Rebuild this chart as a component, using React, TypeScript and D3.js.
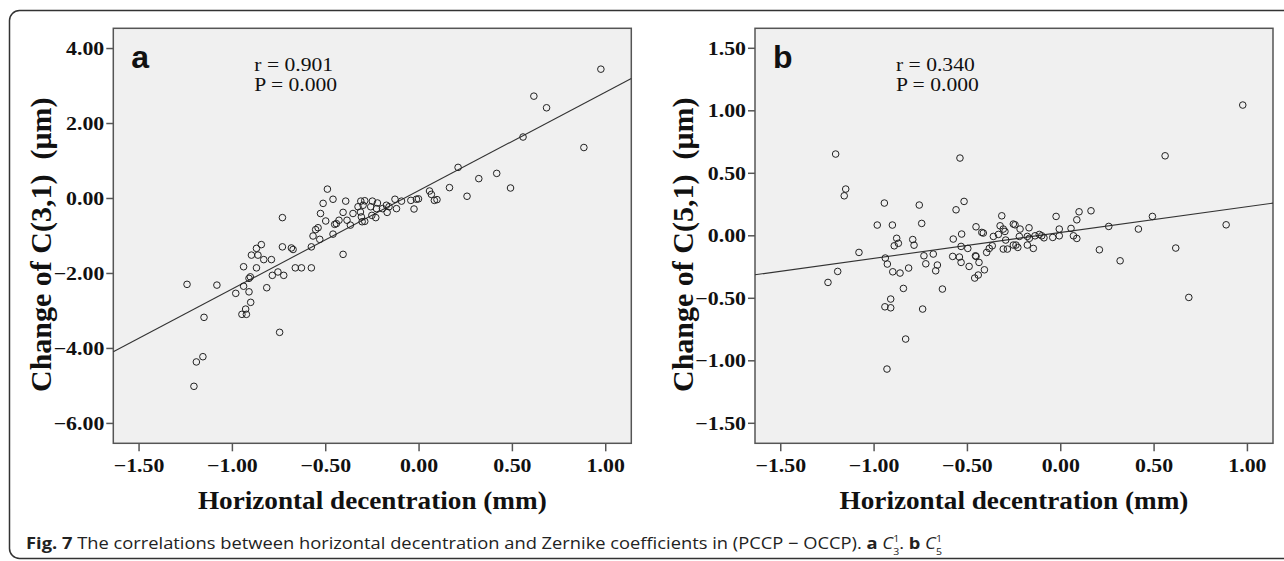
import React from "react";
import * as d3 from "d3";

// ---------- data ----------
const X_TICKS = [-1.5, -1, -0.5, 0, 0.5, 1];
const Y_TICKS_A = [-6, -4, -2, 0, 2, 4];
const Y_TICKS_B = [-1.5, -1, -0.5, 0, 0.5, 1, 1.5];
const X_DOMAIN: [number, number] = [-1.638, 1.137];
const Y_DOMAIN_A: [number, number] = [-6.53, 4.54];
const Y_DOMAIN_B: [number, number] = [-1.66, 1.66];

const FIT_A = { slope: 2.627, intercept: 0.215 };
const FIT_B = { slope: 0.2067, intercept: 0.0266 };

const STATS_A = ["r = 0.901", "P = 0.000"];
const STATS_B = ["r = 0.340", "P = 0.000"];

const DATA_A: [number, number][] = [
  [0.974, 3.45], [0.615, 2.73], [0.683, 2.42], [0.557, 1.64], [0.883, 1.36],
  [0.209, 0.83], [0.32, 0.53], [0.416, 0.67], [0.49, 0.28], [0.163, 0.29],
  [0.257, 0.06], [0.056, 0.2], [0.066, 0.11], [0.082, -0.05], [0.096, -0.03],
  [-0.014, -0.02], [-0.003, -0.01], [-0.027, -0.28], [-0.044, -0.05], [-0.094, -0.07],
  [-0.129, -0.02], [-0.121, -0.27], [-0.175, -0.18], [-0.161, -0.22], [-0.171, -0.37],
  [-0.196, -0.27], [-0.223, -0.12], [-0.228, -0.27], [-0.25, -0.07], [-0.259, -0.22],
  [-0.232, -0.51], [-0.253, -0.45], [-0.291, -0.06], [-0.3, -0.18], [-0.312, -0.07],
  [-0.327, -0.22], [-0.314, -0.36], [-0.309, -0.49], [-0.291, -0.61], [-0.305, -0.62],
  [-0.354, -0.4], [-0.368, -0.71], [-0.386, -0.58], [-0.393, -0.07], [-0.407, -0.37],
  [-0.429, -0.58], [-0.443, -0.67], [-0.461, -0.02], [-0.461, -0.95], [-0.452, -0.69],
  [-0.514, -0.13], [-0.491, 0.25], [-0.528, -0.4], [-0.5, -0.6], [-0.532, -1.09],
  [-0.541, -0.78], [-0.554, -0.83], [-0.568, -1.0], [-0.577, -1.29], [-0.732, -0.51],
  [-0.845, -1.23], [-0.732, -1.29], [-0.684, -1.32], [-0.675, -1.36], [-0.871, -1.33],
  [-0.898, -1.51], [-0.863, -1.51], [-0.832, -1.63], [-0.791, -1.63], [-0.407, -1.49],
  [-0.94, -1.82], [-0.871, -1.85], [-0.904, -2.09], [-0.911, -2.13], [-0.786, -2.05],
  [-0.756, -1.96], [-0.725, -2.05], [-0.663, -1.85], [-0.63, -1.85], [-0.577, -1.85],
  [-1.243, -2.29], [-1.083, -2.31], [-0.94, -2.34], [-0.982, -2.53], [-0.911, -2.49],
  [-0.816, -2.38], [-0.902, -2.77], [-0.929, -2.95], [-0.949, -3.09], [-0.925, -3.09],
  [-1.152, -3.17], [-0.747, -3.57], [-1.158, -4.22], [-1.193, -4.36], [-1.206, -5.01],
];

const DATA_B: [number, number][] = [
  [-1.206, 0.654], [-1.152, 0.374], [-1.16, 0.32], [-0.945, 0.262], [-0.758, 0.246],
  [-0.983, 0.086], [-0.902, 0.086], [-0.745, 0.099], [-0.54, 0.622], [-0.561, 0.208],
  [-0.518, 0.275], [-0.576, -0.026], [-0.531, 0.014], [-0.879, -0.02], [-0.87, -0.06],
  [-0.892, -0.08], [-0.793, -0.03], [-0.786, -0.075], [0.975, 1.046], [0.559, 0.64],
  [0.162, 0.2], [0.098, 0.192], [0.086, 0.128], [-0.025, 0.155], [0.491, 0.155],
  [0.257, 0.075], [0.416, 0.054], [0.886, 0.088], [-0.316, 0.16], [-0.254, 0.094],
  [-0.245, 0.088], [-0.325, 0.08], [-0.308, 0.054], [-0.299, 0.035], [-0.454, 0.072],
  [-0.423, 0.027], [-0.415, 0.022], [-0.17, 0.064], [-0.218, 0.054], [-0.361, -0.005],
  [-0.334, 0.011], [-0.222, -0.005], [-0.179, -0.005], [-0.168, -0.02], [-0.138, 0.0],
  [-0.115, 0.011], [-0.102, 0.0], [-0.09, -0.016], [-0.043, -0.013], [-0.008, 0.0],
  [-0.008, 0.054], [0.055, 0.059], [0.068, 0.0], [0.086, -0.021], [-0.147, -0.101],
  [0.207, -0.112], [0.318, -0.2], [0.616, -0.098], [0.686, -0.493], [-1.081, -0.133],
  [-1.195, -0.285], [-1.247, -0.373], [-0.94, -0.178], [-0.929, -0.226], [-0.9, -0.288],
  [-0.861, -0.298], [-0.815, -0.258], [-0.843, -0.421], [-0.911, -0.506], [-0.942, -0.568],
  [-0.911, -0.576], [-0.74, -0.586], [-0.831, -0.826], [-0.931, -1.066], [-0.733, -0.16],
  [-0.723, -0.224], [-0.683, -0.146], [-0.661, -0.234], [-0.67, -0.28], [-0.634, -0.426],
  [-0.534, -0.085], [-0.579, -0.165], [-0.543, -0.17], [-0.534, -0.213], [-0.498, -0.101],
  [-0.491, -0.245], [-0.457, -0.16], [-0.454, -0.165], [-0.438, -0.213], [-0.461, -0.338],
  [-0.442, -0.314], [-0.409, -0.272], [-0.397, -0.133], [-0.383, -0.101], [-0.367, -0.08],
  [-0.295, -0.034], [-0.308, -0.106], [-0.286, -0.106], [-0.254, -0.074], [-0.24, -0.074],
  [-0.23, -0.093], [-0.179, -0.074],
];

// ---------- layout ----------
const W = 1284;
const H = 561;
const PLOT_TOP = 28.3;
const PLOT_H = 415;
const PLOT_W = 518;
const SERIF = "'Liberation Serif', 'Times New Roman', serif";
const SANS = "'Liberation Sans', Arial, sans-serif";
const fmt = d3.format(".2f");

type PanelProps = {
  left: number;
  letter: string;
  yDomain: [number, number];
  yTicks: number[];
  data: [number, number][];
  fit: { slope: number; intercept: number };
  stats: string[];
  yTitle: string;
};

function Panel({ left, letter, yDomain, yTicks, data, fit, stats, yTitle }: PanelProps) {
  const x = d3.scaleLinear().domain(X_DOMAIN).range([left, left + PLOT_W]);
  const y = d3.scaleLinear().domain(yDomain).range([PLOT_TOP + PLOT_H, PLOT_TOP]);
  const bottom = PLOT_TOP + PLOT_H;
  const line = d3
    .line<number>()
    .x((d) => x(d))
    .y((d) => y(fit.slope * d + fit.intercept));
  return (
    <g>
      <rect x={left} y={PLOT_TOP} width={PLOT_W} height={PLOT_H} fill="#f0f0f0" stroke="#555" strokeWidth={1.5} />
      <path d={line(X_DOMAIN) || ""} fill="none" stroke="#333" strokeWidth={1.1} />
      {data.map((d, i) => (
        <circle key={i} cx={x(d[0])} cy={y(d[1])} r={3.3} fill="none" stroke="#222" strokeWidth={1} />
      ))}
      {yTicks.map((t) => (
        <g key={"y" + t}>
          <line x1={left - 7} x2={left} y1={y(t)} y2={y(t)} stroke="#555" strokeWidth={1.5} />
          <text
            transform={`translate(${left - 9},${y(t) + 6.5}) scale(1.15,1)`}
            textAnchor="end"
            fontFamily={SERIF}
            fontWeight="bold"
            fontSize={19}
            fill="#111"
          >
            {fmt(t)}
          </text>
        </g>
      ))}
      {X_TICKS.map((t) => (
        <g key={"x" + t}>
          <line x1={x(t)} x2={x(t)} y1={bottom} y2={bottom + 8} stroke="#555" strokeWidth={1.5} />
          <text
            transform={`translate(${x(t)},${bottom + 29}) scale(1.15,1)`}
            textAnchor="middle"
            fontFamily={SERIF}
            fontWeight="bold"
            fontSize={19}
            fill="#111"
          >
            {fmt(t)}
          </text>
        </g>
      ))}
      <text
        transform={`translate(${left + PLOT_W / 2},509) scale(1.11,1)`}
        textAnchor="middle"
        fontFamily={SERIF}
        fontWeight="bold"
        fontSize={24.5}
        fill="#111"
      >
        Horizontal decentration (mm)
      </text>
      <text
        transform={`translate(${left - 62},${PLOT_TOP + PLOT_H / 2 + 9}) rotate(-90)`}
        textAnchor="middle"
        fontFamily={SERIF}
        fontWeight="bold"
        fontSize={30}
        fill="#111"
      >
        {yTitle}
      </text>
      <text x={left + 18} y={68} fontFamily={SANS} fontWeight="bold" fontSize={32} fill="#111">
        {letter}
      </text>
      {stats.map((s, i) => (
        <text
          key={s + i}
          transform={`translate(${left + 141},${70.7 + i * 20}) scale(1.2,1)`}
          fontFamily={SERIF}
          fontSize={18}
          fill="#111"
        >
          {s}
        </text>
      ))}
    </g>
  );
}

export default function App() {
  return (
    <svg width={W} height={H} style={{ display: "block", position: "absolute", left: 0, top: 0, background: "#fff" }}>
      <rect x={9.5} y={10.5} width={1300} height={548} rx={10} ry={10} fill="#fff" stroke="#333" strokeWidth={1.5} />
      <Panel
        left={113.3}
        letter="a"
        yDomain={Y_DOMAIN_A}
        yTicks={Y_TICKS_A}
        data={DATA_A}
        fit={FIT_A}
        stats={STATS_A}
        yTitle={"Change of C(3,1)\u00a0\u00a0(μm)"}
      />
      <Panel
        left={755}
        letter="b"
        yDomain={Y_DOMAIN_B}
        yTicks={Y_TICKS_B}
        data={DATA_B}
        fit={FIT_B}
        stats={STATS_B}
        yTitle={"Change of C(5,1)\u00a0\u00a0(μm)"}
      />
      <text transform="translate(26,549) scale(1.11,1)" fontFamily="'Open Sans', sans-serif" fontSize={16.5} fill="#222">
        <tspan fontWeight="bold">Fig. 7</tspan>
        <tspan>{" The correlations between horizontal decentration and Zernike coefficients in (PCCP \u2212 OCCP). "}</tspan>
        <tspan fontWeight="bold">a</tspan>
        <tspan>{" "}</tspan>
        <tspan fontStyle="italic">C</tspan>
        <tspan fontSize={9.5} dy={-7}>1</tspan>
        <tspan fontSize={9.5} dx={-5.4} dy={13}>3</tspan>
        <tspan dy={-6}>{". "}</tspan>
        <tspan fontWeight="bold">b</tspan>
        <tspan>{" "}</tspan>
        <tspan fontStyle="italic">C</tspan>
        <tspan fontSize={9.5} dy={-7}>1</tspan>
        <tspan fontSize={9.5} dx={-5.4} dy={13}>5</tspan>
      </text>
    </svg>
  );
}
